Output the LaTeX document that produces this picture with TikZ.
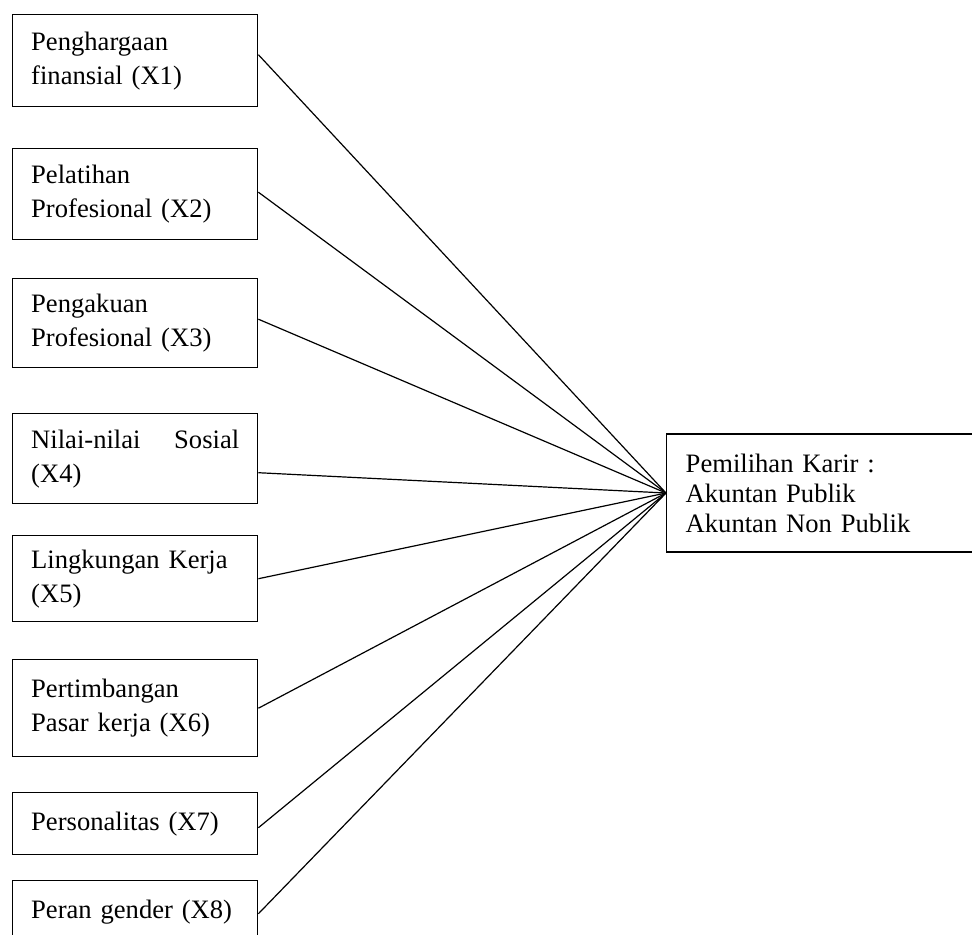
\documentclass[tikz,border=0pt]{standalone}
\usepackage{fontspec}
\setmainfont{Liberation Serif}
\usetikzlibrary{positioning}

\begin{document}
\begin{tikzpicture}[x=0.5pt, y=-0.5pt,
      factor/.style={draw, line width=0.7pt, anchor=north west, align=left,
        text width=104pt, inner xsep=9pt, inner ysep=0pt, minimum width=122.5pt,
        font=\fontsize{13.3}{17}\selectfont},
      result/.style={draw, line width=0.7pt, anchor=west, align=left,
        text width=151pt, inner xsep=9.5pt, minimum width=170pt, minimum height=59pt,
        font=\fontsize{13.3}{15}\selectfont},
      link/.style={line width=0.6pt}
    ]
      \useasboundingbox (0,0) rectangle (972,934);

      % independent variables
      \node[factor, minimum height=46pt]   (x1) at (12,14)  {Penghargaan\\finansial (X1)};
      \node[factor, minimum height=45.5pt] (x2) at (12,148) {Pelatihan\\Profesional (X2)};
      \node[factor, minimum height=44.5pt] (x3) at (12,278) {Pengakuan\\Profesional (X3)};
      \node[factor, minimum height=45pt]   (x4) at (12,413) {Nilai-nilai\hfill Sosial\hspace*{2pt}\\(X4)};
      \node[factor, minimum height=43pt]   (x5) at (12,535) {Lingkungan Kerja\\(X5)};
      \node[factor, minimum height=48.5pt] (x6) at (12,659) {Pertimbangan\\Pasar kerja (X6)};
      \node[factor, minimum height=31pt]   (x7) at (12,792) {Personalitas (X7)};
      \node[factor, minimum height=31pt]   (x8) at (12,880) {Peran gender (X8)};

      % dependent variable
      \node[result] (y) at (666,493) {Pemilihan Karir :\\Akuntan Publik\\Akuntan Non Publik};

      \foreach \i/\dy in {1/3,2/1,3/2,4/-7,5/0,6/0,7/-2,8/-1}
        \draw[link] ([yshift=\dy pt]x\i.east) -- (y.west);
\end{tikzpicture}
\end{document}
